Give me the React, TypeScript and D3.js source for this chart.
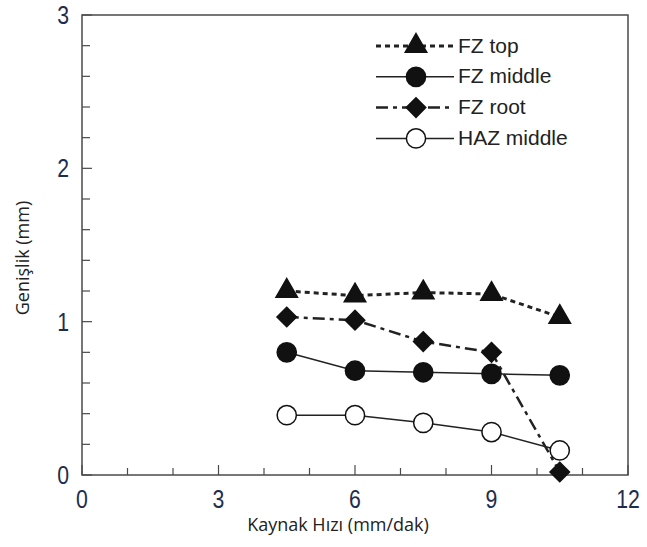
import * as d3 from 'd3';
import { useEffect, useRef } from 'react';

// welding speed (mm/dak)
const speeds = [4.5, 6, 7.5, 9, 10.5];
const fzTop = [1.2, 1.17, 1.19, 1.18, 1.03];
const fzMiddle = [0.8, 0.68, 0.67, 0.66, 0.65];
const fzRoot = [1.03, 1.01, 0.87, 0.8, 0.02];
const hazMiddle = [0.39, 0.39, 0.34, 0.28, 0.16];

const seriesNames = ['FZ top', 'FZ middle', 'FZ root', 'HAZ middle'];
const xTicks = [0, 3, 6, 9, 12];
const yTicks = [0, 1, 2, 3];

const App = () => {
  const ref = useRef<SVGSVGElement>(null);

  useEffect(() => {
    const svg = d3.select(ref.current);
    svg.selectAll('*').remove();

    const margin = { top: 15, right: 19, bottom: 72, left: 82 };
    const W = 647, H = 547;
    const width = W - margin.left - margin.right;
    const height = H - margin.top - margin.bottom;

    const x = d3.scaleLinear().domain([0, 12]).range([0, width]);
    const y = d3.scaleLinear().domain([0, 3]).range([height, 0]);

    const g = svg.append('g').attr('transform', `translate(${margin.left},${margin.top})`);
    const axisColor = '#4a4a4a';
    const labelColor = '#1f2d4d';
    const tickFont = 'Liberation Sans, Arial, sans-serif';

    // frame
    g.append('rect')
      .attr('width', width).attr('height', height)
      .attr('fill', 'none').attr('stroke', axisColor).attr('stroke-width', 1.5);

    // inward ticks
    d3.range(0, 12.01, 1).forEach(v => {
      const major = v % 3 === 0;
      g.append('line')
        .attr('x1', x(v)).attr('x2', x(v))
        .attr('y1', height).attr('y2', height - (major ? 10 : 7))
        .attr('stroke', axisColor).attr('stroke-width', 1.2);
    });
    d3.range(0, 3.001, 0.2).forEach(v => {
      const major = Math.abs(v - Math.round(v)) < 1e-6;
      g.append('line')
        .attr('x1', 0).attr('x2', major ? 10 : 8)
        .attr('y1', y(v)).attr('y2', y(v))
        .attr('stroke', axisColor).attr('stroke-width', 1.2);
    });

    // tick labels (condensed look)
    g.selectAll('.xl').data(xTicks).enter().append('text')
      .attr('transform', d => `translate(${x(d)},${height + 33}) scale(0.85,1)`)
      .attr('text-anchor', 'middle')
      .attr('font-family', tickFont)
      .attr('font-size', 25).attr('fill', labelColor)
      .text(d => d);
    g.selectAll('.yl').data(yTicks).enter().append('text')
      .attr('transform', d => `translate(-13,${y(d) + 9}) scale(0.85,1)`)
      .attr('text-anchor', 'end')
      .attr('font-family', tickFont)
      .attr('font-size', 25).attr('fill', labelColor)
      .text(d => d);

    // axis titles
    svg.append('text')
      .attr('x', 338).attr('y', 531)
      .attr('text-anchor', 'middle')
      .attr('font-family', 'Open Sans, sans-serif').attr('font-size', 18)
      .attr('fill', '#222').text('Kaynak Hızı (mm/dak)');
    svg.append('text')
      .attr('transform', `translate(29,258) rotate(-90)`)
      .attr('text-anchor', 'middle')
      .attr('font-family', 'Open Sans, sans-serif').attr('font-size', 18)
      .attr('fill', '#222').text('Genişlik (mm)');

    const styles = [
      { values: fzTop, dash: '5,4', width: 3, marker: 'triangle', fill: '#111' },
      { values: fzMiddle, dash: null, width: 1.5, marker: 'circle', fill: '#111' },
      { values: fzRoot, dash: '12,5,4,5', width: 2.5, marker: 'diamond', fill: '#111' },
      { values: hazMiddle, dash: null, width: 1.5, marker: 'circle', fill: '#fff' },
    ];

    const line = d3.line<number>().x((_, i) => x(speeds[i])).y(d => y(d));
    const symbolOf = (m: string) =>
      m === 'triangle' ? d3.symbol(d3.symbolTriangle, 200)
        : m === 'diamond' ? d3.symbol(d3.symbolSquare, 190)
        : d3.symbol(d3.symbolCircle, 290);
    const rot = (m: string) => (m === 'diamond' ? ' rotate(45)' : '');

    styles.forEach(s => {
      g.append('path')
        .attr('d', line(s.values))
        .attr('fill', 'none').attr('stroke', '#222')
        .attr('stroke-width', s.width)
        .attr('stroke-dasharray', s.dash);
    });
    styles.forEach(s => {
      g.selectAll(null).data(s.values).enter().append('path')
        .attr('d', symbolOf(s.marker)())
        .attr('transform', (d, i) => `translate(${x(speeds[i])},${y(d)})${rot(s.marker)}`)
        .attr('fill', s.fill).attr('stroke', '#111').attr('stroke-width', 1.5);
    });

    // legend
    const lg = svg.append('g').attr('transform', 'translate(376,46)');
    styles.forEach((s, i) => {
      const row = lg.append('g').attr('transform', `translate(0,${i * 30.8})`);
      row.append('line')
        .attr('x1', 0).attr('x2', 78).attr('y1', 0).attr('y2', 0)
        .attr('stroke', '#222').attr('stroke-width', s.width)
        .attr('stroke-dasharray', s.dash);
      row.append('path')
        .attr('d', symbolOf(s.marker)())
        .attr('transform', `translate(40,0)${rot(s.marker)}`)
        .attr('fill', s.fill).attr('stroke', '#111').attr('stroke-width', 1.5);
      row.append('text')
        .attr('x', 82).attr('y', 1).attr('dominant-baseline', 'middle')
        .attr('font-family', 'Liberation Sans, Arial, sans-serif')
        .attr('font-size', 21).attr('fill', '#222')
        .text(seriesNames[i]);
    });
  }, []);

  return <svg ref={ref} width={647} height={547} style={{ display: 'block', position: 'absolute', left: 0, top: 0 }} />;
};

export default App;
